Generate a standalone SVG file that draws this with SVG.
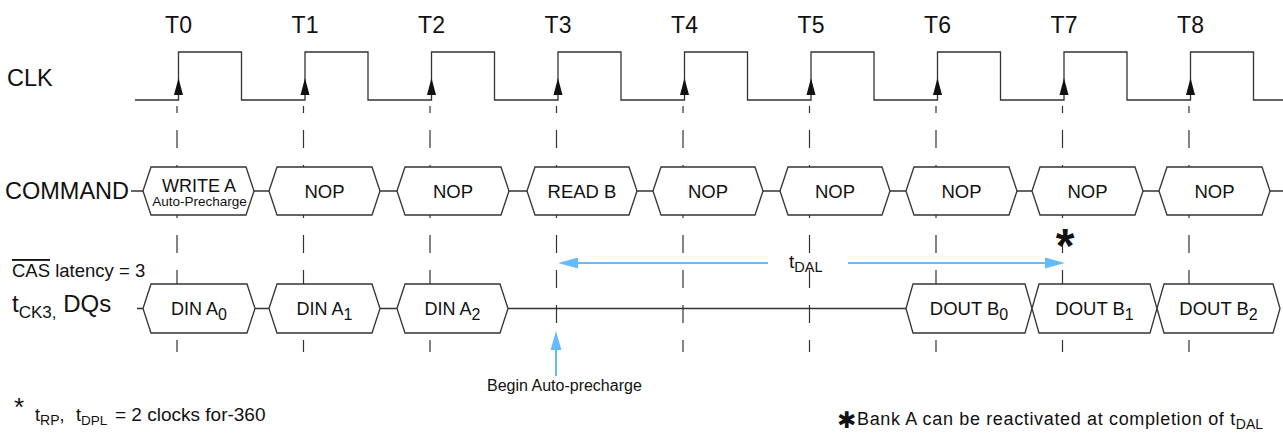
<svg xmlns="http://www.w3.org/2000/svg" width="1283" height="434" viewBox="0 0 1283 434">
<style>
text{font-family:"Liberation Sans",Arial,"DejaVu Sans",sans-serif;fill:#111}
.lbl{font-size:23.5px}
.tl{font-size:23px;text-anchor:middle}
.cmd{font-size:18.5px;text-anchor:middle}
.dq{font-size:18px;text-anchor:middle}
.sub{font-size:16px}
.box{fill:#fff;stroke:#333;stroke-width:1.3}
.wire{fill:none;stroke:#333;stroke-width:1.3}
.dash{stroke:#333;stroke-width:1.2;stroke-dasharray:18 17;stroke-dashoffset:11}
.blue{stroke:#66bbff;stroke-width:2;fill:none}
.bluefill{fill:#66bbff}
.arr{fill:#111}
</style>
<g id="timelines">
<line class="dash" x1="177" y1="106" x2="177" y2="352"/>
<line class="dash" x1="303.5" y1="106" x2="303.5" y2="352"/>
<line class="dash" x1="430" y1="106" x2="430" y2="352"/>
<line class="dash" x1="556.5" y1="106" x2="556.5" y2="352"/>
<line class="dash" x1="683" y1="106" x2="683" y2="352"/>
<line class="dash" x1="809.5" y1="106" x2="809.5" y2="352"/>
<line class="dash" x1="936" y1="106" x2="936" y2="352"/>
<line class="dash" x1="1062.5" y1="106" x2="1062.5" y2="352"/>
<line class="dash" x1="1189" y1="106" x2="1189" y2="352"/>
</g>
<g id="labels">
<text class="tl" x="178.5" y="33">T0</text>
<text class="tl" x="305" y="33">T1</text>
<text class="tl" x="431.5" y="33">T2</text>
<text class="tl" x="558" y="33">T3</text>
<text class="tl" x="684.5" y="33">T4</text>
<text class="tl" x="811" y="33">T5</text>
<text class="tl" x="937.5" y="33">T6</text>
<text class="tl" x="1064" y="33">T7</text>
<text class="tl" x="1190.5" y="33">T8</text>
<text class="lbl" x="7" y="86">CLK</text>
<text class="lbl" x="5" y="199">COMMAND</text>
<text x="12" y="277" style="font-size:18.5px"><tspan style="text-decoration:overline">CAS</tspan> latency = 3</text>
<text x="12" y="312" style="font-size:24px">t<tspan dy="6" style="font-size:17px">CK3,</tspan><tspan dy="-6"> DQs</tspan></text>
</g>
<g id="clk">
<path class="wire" d="M135,100 H178.5 V52 H241.5 V100 H305 V52 H368 V100 H431.5 V52 H494.5 V100 H558 V52 H621 V100 H684.5 V52 H747.5 V100 H811 V52 H874 V100 H937.5 V52 H1000.5 V100 H1064 V52 H1127 V100 H1190.5 V52 H1253.5 V100 H1283"/>
<polygon class="arr" points="178.5,78 174,95 183,95"/>
<polygon class="arr" points="305,78 300.5,95 309.5,95"/>
<polygon class="arr" points="431.5,78 427,95 436,95"/>
<polygon class="arr" points="558,78 553.5,95 562.5,95"/>
<polygon class="arr" points="684.5,78 680,95 689,95"/>
<polygon class="arr" points="811,78 806.5,95 815.5,95"/>
<polygon class="arr" points="937.5,78 933,95 942,95"/>
<polygon class="arr" points="1064,78 1059.5,95 1068.5,95"/>
<polygon class="arr" points="1190.5,78 1186,95 1195,95"/>
</g>
<g id="connectors">
<line class="wire" x1="131" y1="191" x2="1283" y2="191"/>
<line class="wire" x1="137" y1="308.5" x2="906" y2="308.5"/>
<line class="blue" x1="576" y1="263" x2="768" y2="263"/>
<line class="blue" x1="848" y1="263" x2="1047" y2="263"/>
<polygon class="bluefill" points="558,263 578,257.5 578,268.5"/>
<polygon class="bluefill" points="1065,263 1045,257.5 1045,268.5"/>
<line class="blue" x1="556" y1="348" x2="556" y2="376"/>
<polygon class="bluefill" points="556,331 550.5,350 561.5,350"/>
</g>
<g id="cmd-write"><polygon class="box" points="143,191 151,167 246,167 254,191 246,215 151,215"/><text class="cmd" x="199" y="192" style="font-size:18px">WRITE A</text><text class="cmd" x="199.5" y="206" style="font-size:13.5px">Auto-Precharge</text></g>
<g id="cmd-nop1"><polygon class="box" points="269,191 277,167 372,167 380,191 372,215 277,215"/><text class="cmd" x="324.5" y="197.5">NOP</text></g>
<g id="cmd-nop2"><polygon class="box" points="397,191 405,167 501,167 509,191 501,215 405,215"/><text class="cmd" x="453" y="197.5">NOP</text></g>
<g id="cmd-readb"><polygon class="box" points="527,191 535,167 629,167 637,191 629,215 535,215"/><text class="cmd" x="582" y="197.5">READ B</text></g>
<g id="cmd-nop4"><polygon class="box" points="653,191 661,167 755,167 763,191 755,215 661,215"/><text class="cmd" x="708" y="197.5">NOP</text></g>
<g id="cmd-nop5"><polygon class="box" points="780,191 788,167 882,167 890,191 882,215 788,215"/><text class="cmd" x="835" y="197.5">NOP</text></g>
<g id="cmd-nop6"><polygon class="box" points="906,191 914,167 1009,167 1017,191 1009,215 914,215"/><text class="cmd" x="961.5" y="197.5">NOP</text></g>
<g id="cmd-nop7"><polygon class="box" points="1032,191 1040,167 1135,167 1143,191 1135,215 1040,215"/><text class="cmd" x="1087.5" y="197.5">NOP</text></g>
<g id="cmd-nop8"><polygon class="box" points="1159,191 1167,167 1262,167 1270,191 1262,215 1167,215"/><text class="cmd" x="1214.5" y="197.5">NOP</text></g>
<g id="dq-a0"><polygon class="box" points="143,308.5 151,284 247,284 255,308.5 247,333 151,333"/><text class="dq" x="199" y="315">DIN A<tspan class="sub" dy="5">0</tspan></text></g>
<g id="dq-a1"><polygon class="box" points="269,308.5 277,284 372,284 380,308.5 372,333 277,333"/><text class="dq" x="324.5" y="315">DIN A<tspan class="sub" dy="5">1</tspan></text></g>
<g id="dq-a2"><polygon class="box" points="397,308.5 405,284 500,284 508,308.5 500,333 405,333"/><text class="dq" x="452.5" y="315">DIN A<tspan class="sub" dy="5">2</tspan></text></g>
<g id="dq-b0"><polygon class="box" points="906,308.5 913,284 1025,284 1032,308.5 1025,333 913,333"/><text class="dq" x="969" y="315" style="font-size:18.5px">DOUT B<tspan class="sub" dy="5">0</tspan></text></g>
<g id="dq-b1"><polygon class="box" points="1032,308.5 1039,284 1150,284 1157,308.5 1150,333 1039,333"/><text class="dq" x="1094.5" y="315" style="font-size:18.5px">DOUT B<tspan class="sub" dy="5">1</tspan></text></g>
<g id="dq-b2"><polygon class="box" points="1157,308.5 1164,284 1273,284 1280,308.5 1273,333 1164,333"/><text class="dq" x="1218.5" y="315" style="font-size:18.5px">DOUT B<tspan class="sub" dy="5">2</tspan></text></g>
<g id="annotations">
<text x="789" y="268" style="font-size:19px">t<tspan dy="4" style="font-size:14.5px">DAL</tspan></text>
<text x="1065" y="262" style="font-size:48px;font-weight:bold;text-anchor:middle">*</text>
<text x="487" y="391" style="font-size:16px">Begin Auto-precharge</text>
<text x="14" y="416" style="font-size:26px">*</text>
<text x="35" y="421" style="font-size:18px">t<tspan dy="4" style="font-size:14px">RP</tspan><tspan dy="-4">,</tspan><tspan x="76">t</tspan><tspan dy="4" style="font-size:13.5px">DPL</tspan><tspan x="115" dy="-4" style="font-size:19px">= 2 clocks for-360</tspan></text>
<text x="837" y="428" style="font-family:'DejaVu Sans',sans-serif;font-size:23px;font-weight:bold">✱</text>
<text x="857" y="425" style="font-size:18px;letter-spacing:0.65px">Bank A can be reactivated at completion of t<tspan dy="4" style="font-size:14px;letter-spacing:0">DAL</tspan></text>
</g>
</svg>
